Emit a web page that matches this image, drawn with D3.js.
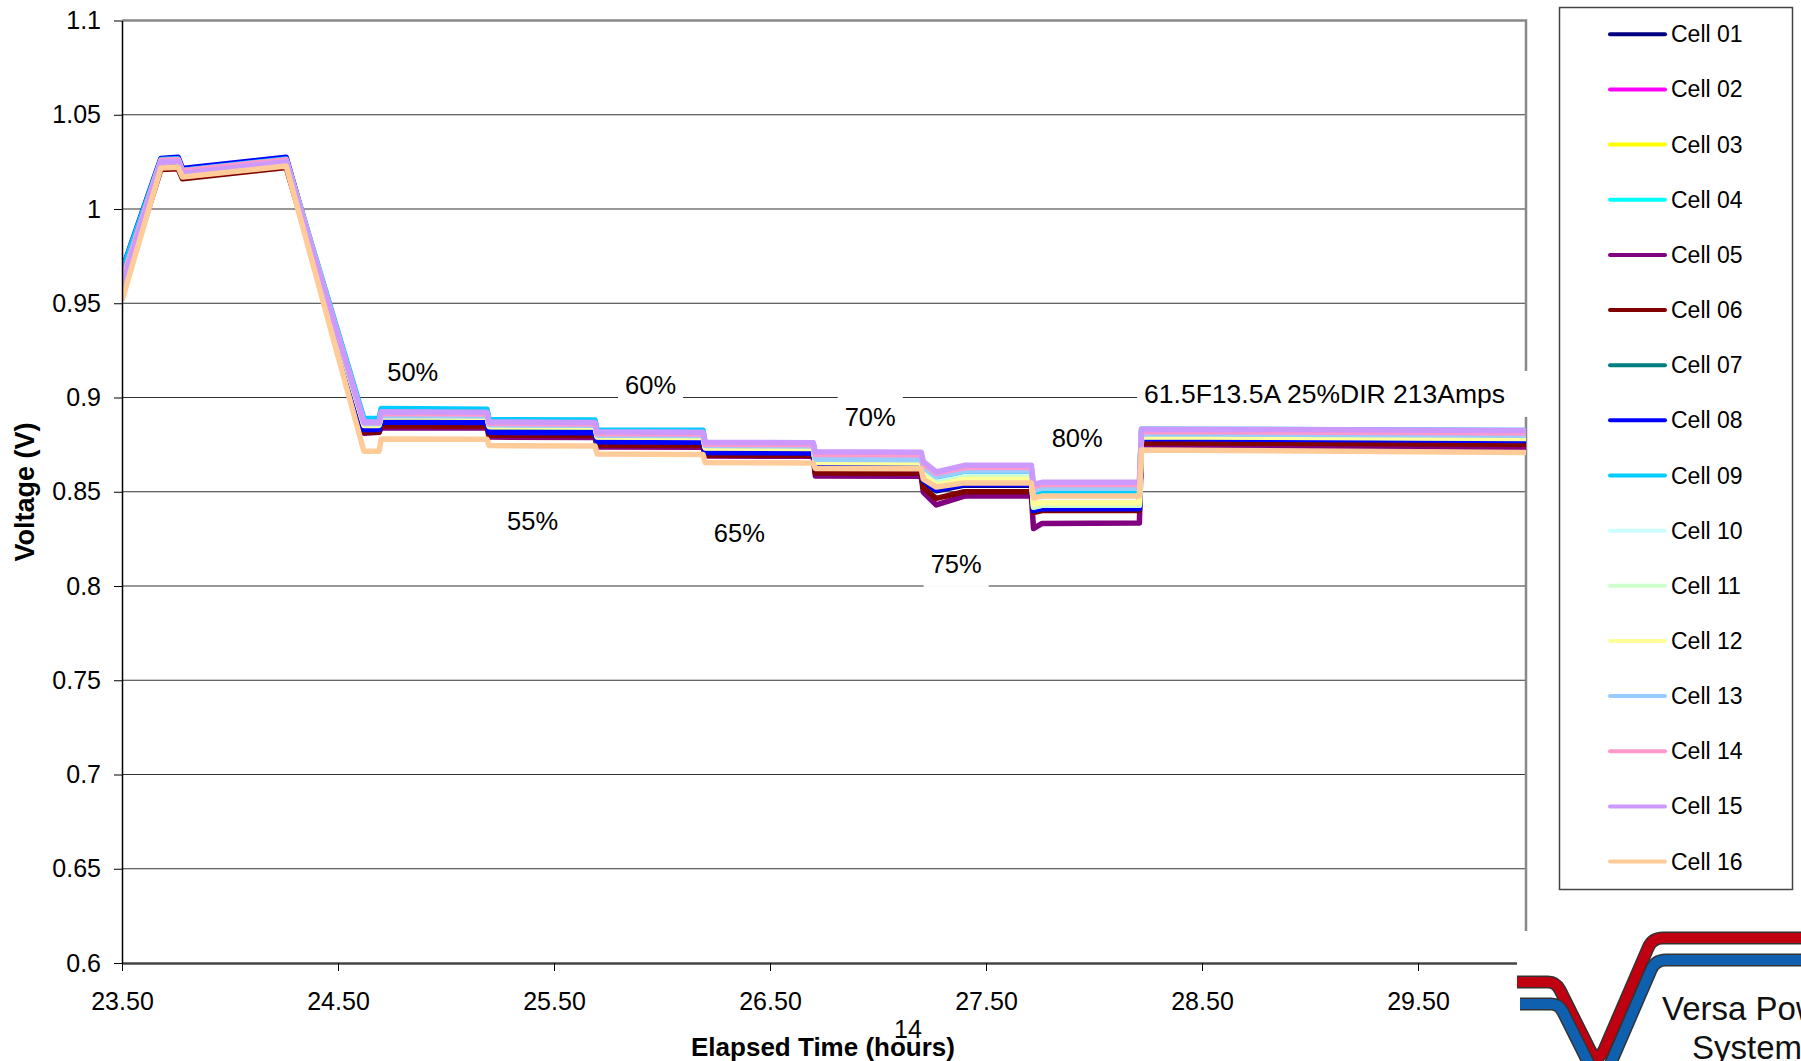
<!DOCTYPE html>
<html>
<head>
<meta charset="utf-8">
<script src="https://cdn.jsdelivr.net/npm/d3@7"></script>
<style>
  body { margin: 0; background: #fff; }
  text { font-family: Arial, "Liberation Sans", sans-serif; }
</style>
</head>
<body>
<div id="chart"></div>
<script>
// Elapsed time (hours) of each breakpoint
var times = [23.50, 23.68, 23.76, 23.78, 24.26, 24.62, 24.69, 24.70, 25.19, 25.20, 25.69, 25.70, 26.19,
             26.20, 26.70, 26.71, 27.20, 27.21, 27.27, 27.40, 27.71, 27.72, 27.76, 28.21, 28.22, 30.00];

// Cell voltages (V) at each breakpoint
var cell01 = [0.9620, 1.0250, 1.0255, 1.0195, 1.0250, 0.8825, 0.8825, 0.8865, 0.8862, 0.8812, 0.8810, 0.8762, 0.8760,
              0.8703, 0.8700, 0.8628, 0.8626, 0.8550, 0.8505, 0.8535, 0.8535, 0.8395, 0.8405, 0.8405, 0.8778, 0.8768];
var cell02 = [0.9620, 1.0250, 1.0255, 1.0195, 1.0255, 0.8835, 0.8835, 0.8875, 0.8872, 0.8820, 0.8818, 0.8770, 0.8768,
              0.8716, 0.8714, 0.8638, 0.8636, 0.8565, 0.8515, 0.8545, 0.8545, 0.8410, 0.8420, 0.8420, 0.8785, 0.8775];
var cell03 = [0.9620, 1.0250, 1.0255, 1.0195, 1.0255, 0.8850, 0.8850, 0.8895, 0.8892, 0.8845, 0.8843, 0.8790, 0.8788,
              0.8735, 0.8733, 0.8655, 0.8653, 0.8585, 0.8535, 0.8565, 0.8565, 0.8430, 0.8440, 0.8440, 0.8790, 0.8780];
var cell04 = [0.9660, 1.0258, 1.0262, 1.0200, 1.0262, 0.8875, 0.8875, 0.8925, 0.8922, 0.8870, 0.8868, 0.8815, 0.8813,
              0.8755, 0.8753, 0.8680, 0.8678, 0.8620, 0.8570, 0.8600, 0.8600, 0.8485, 0.8495, 0.8495, 0.8825, 0.8818];
var cell05 = [0.9580, 1.0240, 1.0245, 1.0185, 1.0240, 0.8810, 0.8815, 0.8840, 0.8838, 0.8790, 0.8788, 0.8738, 0.8736,
              0.8690, 0.8688, 0.8583, 0.8582, 0.8497, 0.8430, 0.8477, 0.8477, 0.8305, 0.8332, 0.8334, 0.8745, 0.8735];
var cell06 = [0.9550, 1.0210, 1.0213, 1.0160, 1.0220, 0.8815, 0.8815, 0.8850, 0.8848, 0.8800, 0.8798, 0.8748, 0.8746,
              0.8695, 0.8693, 0.8600, 0.8598, 0.8520, 0.8465, 0.8500, 0.8500, 0.8390, 0.8400, 0.8400, 0.8760, 0.8752];
var cell07 = [0.9620, 1.0250, 1.0255, 1.0195, 1.0255, 0.8840, 0.8840, 0.8880, 0.8878, 0.8830, 0.8828, 0.8780, 0.8778,
              0.8725, 0.8723, 0.8650, 0.8648, 0.8580, 0.8530, 0.8560, 0.8560, 0.8420, 0.8430, 0.8430, 0.8790, 0.8778];
var cell08 = [0.9675, 1.0268, 1.0275, 1.0215, 1.0275, 0.8830, 0.8830, 0.8870, 0.8868, 0.8815, 0.8813, 0.8765, 0.8763,
              0.8708, 0.8706, 0.8632, 0.8630, 0.8560, 0.8510, 0.8540, 0.8540, 0.8400, 0.8410, 0.8410, 0.8782, 0.8772];
var cell09 = [0.9670, 1.0262, 1.0266, 1.0205, 1.0265, 0.8888, 0.8888, 0.8942, 0.8938, 0.8882, 0.8880, 0.8828, 0.8826,
              0.8760, 0.8758, 0.8685, 0.8683, 0.8625, 0.8575, 0.8605, 0.8605, 0.8495, 0.8505, 0.8505, 0.8832, 0.8825];
var cell10 = [0.9620, 1.0252, 1.0256, 1.0196, 1.0255, 0.8860, 0.8860, 0.8905, 0.8902, 0.8850, 0.8848, 0.8795, 0.8793,
              0.8738, 0.8736, 0.8660, 0.8658, 0.8600, 0.8550, 0.8580, 0.8580, 0.8420, 0.8430, 0.8430, 0.8800, 0.8790];
var cell11 = [0.9610, 1.0250, 1.0254, 1.0194, 1.0252, 0.8855, 0.8855, 0.8900, 0.8897, 0.8848, 0.8846, 0.8792, 0.8790,
              0.8735, 0.8733, 0.8658, 0.8656, 0.8595, 0.8545, 0.8575, 0.8575, 0.8418, 0.8428, 0.8428, 0.8795, 0.8785];
var cell12 = [0.9610, 1.0248, 1.0252, 1.0192, 1.0250, 0.8852, 0.8852, 0.8898, 0.8895, 0.8845, 0.8843, 0.8790, 0.8788,
              0.8732, 0.8730, 0.8655, 0.8653, 0.8585, 0.8535, 0.8565, 0.8565, 0.8432, 0.8442, 0.8442, 0.8792, 0.8782];
var cell13 = [0.9620, 1.0254, 1.0258, 1.0198, 1.0255, 0.8862, 0.8862, 0.8905, 0.8902, 0.8855, 0.8853, 0.8800, 0.8798,
              0.8745, 0.8743, 0.8672, 0.8670, 0.8630, 0.8580, 0.8610, 0.8610, 0.8508, 0.8518, 0.8518, 0.8808, 0.8800];
var cell14 = [0.9620, 1.0258, 1.0262, 1.0203, 1.0262, 0.8868, 0.8868, 0.8915, 0.8912, 0.8862, 0.8860, 0.8808, 0.8806,
              0.8752, 0.8750, 0.8698, 0.8696, 0.8648, 0.8598, 0.8628, 0.8628, 0.8528, 0.8538, 0.8538, 0.8820, 0.8812];
var cell15 = [0.9590, 1.0248, 1.0252, 1.0190, 1.0250, 0.8870, 0.8870, 0.8925, 0.8922, 0.8870, 0.8868, 0.8818, 0.8816,
              0.8762, 0.8760, 0.8712, 0.8710, 0.8660, 0.8605, 0.8640, 0.8640, 0.8540, 0.8550, 0.8550, 0.8832, 0.8825];
var cell16 = [0.9515, 1.0218, 1.0222, 1.0170, 1.0228, 0.8715, 0.8715, 0.8780, 0.8778, 0.8745, 0.8743, 0.8700, 0.8698,
              0.8655, 0.8653, 0.8624, 0.8622, 0.8567, 0.8525, 0.8547, 0.8547, 0.8467, 0.8477, 0.8477, 0.8722, 0.8708];

var cellNames = ["Cell 01", "Cell 02", "Cell 03", "Cell 04", "Cell 05", "Cell 06", "Cell 07", "Cell 08",
                 "Cell 09", "Cell 10", "Cell 11", "Cell 12", "Cell 13", "Cell 14", "Cell 15", "Cell 16"];
var cellColors = ["#000080", "#FF00FF", "#FFFF00", "#00FFFF", "#800080", "#800000", "#008080", "#0000FF",
                  "#00CCFF", "#CCFFFF", "#CCFFCC", "#FFFF99", "#99CCFF", "#FF99CC", "#CC99FF", "#FFCC99"];

// tick values
var xTicks = [23.5, 24.5, 25.5, 26.5, 27.5, 28.5, 29.5];
var yTicks = [0.6, 0.65, 0.7, 0.75, 0.8, 0.85, 0.9, 0.95, 1.0, 1.05, 1.1];

// annotations (label, time, voltage)
var noteLabels = ["50%", "55%", "60%", "65%", "70%", "75%", "80%", "61.5F13.5A 25%DIR 213Amps"];
var noteTimes = [24.846, 25.401, 25.947, 26.358, 26.964, 27.362, 27.922, 28.232];
var noteVolts = [0.9135, 0.8345, 0.9066, 0.8281, 0.8897, 0.8117, 0.8785, 0.9019];

var cells = [cell01, cell02, cell03, cell04, cell05, cell06, cell07, cell08,
             cell09, cell10, cell11, cell12, cell13, cell14, cell15, cell16];

// SVG area
var svgWidth = 1801;
var svgHeight = 1061;
var plot = { left: 122, right: 1526, top: 20.5, bottom: 963 };

var svg = d3.select("#chart")
    .append("svg")
    .attr("width", svgWidth)
    .attr("height", svgHeight)
    .style("display", "block");

var xScale = d3.scaleLinear().domain([23.5, 30]).range([plot.left, plot.right]);
var yScale = d3.scaleLinear().domain([0.6, 1.1]).range([plot.bottom, plot.top]);

// gridlines
svg.append("g")
    .selectAll("line")
    .data(yTicks.filter(v => v > 0.61 && v < 1.09))
    .enter()
    .append("line")
    .attr("x1", plot.left)
    .attr("x2", plot.right)
    .attr("y1", d => yScale(d))
    .attr("y2", d => yScale(d))
    .attr("stroke", "#333")
    .attr("stroke-width", 1.2);

// top and right border of plot area
svg.append("path")
    .attr("d", `M${plot.left},${plot.top}H${plot.right}V${plot.bottom}`)
    .attr("fill", "none")
    .attr("stroke", "#888")
    .attr("stroke-width", 2.5);

// clip the series to the plot area
svg.append("clipPath")
    .attr("id", "plotClip")
    .append("rect")
    .attr("x", plot.left)
    .attr("y", plot.top)
    .attr("width", plot.right - plot.left)
    .attr("height", plot.bottom - plot.top);

var line = d3.line()
    .x(d => xScale(d[0]))
    .y(d => yScale(d[1]));

var linesGroup = svg.append("g").attr("clip-path", "url(#plotClip)");

cells.forEach(function(vals, i) {
    linesGroup.append("path")
        .datum(times.map((t, j) => [t, vals[j]]))
        .attr("d", line)
        .attr("fill", "none")
        .attr("stroke", cellColors[i])
        .attr("stroke-width", 5.5)
        .attr("stroke-linejoin", "round");
});

// x axis
var bottomAxis = d3.axisBottom(xScale)
    .tickValues(xTicks)
    .tickSize(8)
    .tickSizeOuter(0)
    .tickPadding(21)
    .tickFormat(d3.format(".2f"));

var xAxis = svg.append("g")
    .attr("transform", `translate(0, ${plot.bottom})`)
    .call(bottomAxis);
xAxis.select(".domain").attr("stroke", "#444").attr("stroke-width", 2.5);
xAxis.selectAll(".tick line").attr("stroke", "#000");
xAxis.selectAll("text")
    .attr("fill", "#000")
    .style("font-size", "25px")
    .style("font-family", "Arial, 'Liberation Sans', sans-serif");

// y axis
var leftAxis = d3.axisLeft(yScale)
    .tickValues(yTicks)
    .tickSize(8)
    .tickSizeOuter(0)
    .tickPadding(13)
    .tickFormat(d => String(+d.toFixed(2)));

var yAxis = svg.append("g")
    .attr("transform", `translate(${plot.left}, 0)`)
    .call(leftAxis);
yAxis.select(".domain").attr("stroke", "#000").attr("stroke-width", 1.5);
yAxis.selectAll(".tick line").attr("stroke", "#000");
yAxis.selectAll("text")
    .attr("fill", "#000")
    .style("font-size", "25px")
    .style("font-family", "Arial, 'Liberation Sans', sans-serif");

// axis titles
svg.append("text")
    .attr("x", 823)
    .attr("y", 1056)
    .attr("text-anchor", "middle")
    .attr("font-size", 26)
    .attr("font-weight", "bold")
    .text("Elapsed Time (hours)");

svg.append("text")
    .attr("x", 908)
    .attr("y", 1038)
    .attr("text-anchor", "middle")
    .attr("font-size", 25)
    .text("14");

svg.append("text")
    .attr("transform", "translate(34, 492) rotate(-90)")
    .attr("text-anchor", "middle")
    .attr("font-size", 27)
    .attr("font-weight", "bold")
    .text("Voltage (V)");

// annotations with white boxes
var notesGroup = svg.append("g");
noteLabels.forEach(function(label, i) {
    var last = i === noteLabels.length - 1;
    var cx = xScale(noteTimes[i]);
    var cy = yScale(noteVolts[i]);
    var box = notesGroup.append("rect").attr("fill", "#fff");
    var txt = notesGroup.append("text")
        .attr("x", cx)
        .attr("y", cy)
        .attr("text-anchor", last ? "start" : "middle")
        .attr("dominant-baseline", "central")
        .attr("font-size", last ? 26.5 : 25.5)
        .attr("fill", "#000")
        .text(label);
    var bb = txt.node().getBBox();
    var x0 = bb.x - 7;
    var x1 = last ? plot.right + 4 : bb.x + bb.width + 7;
    box.attr("x", x0).attr("y", cy - 23).attr("width", x1 - x0).attr("height", 46);
});

// legend
var legend = svg.append("g");
legend.append("rect")
    .attr("x", 1559.5)
    .attr("y", 7.5)
    .attr("width", 233)
    .attr("height", 882)
    .attr("fill", "#fff")
    .attr("stroke", "#444")
    .attr("stroke-width", 1.5);

var legendItems = legend.selectAll("g.item")
    .data(cellNames)
    .enter()
    .append("g")
    .attr("transform", (d, i) => `translate(0, ${34.3 + i * 55.15})`);

legendItems.append("line")
    .attr("x1", 1610)
    .attr("x2", 1665)
    .attr("stroke", (d, i) => cellColors[i])
    .attr("stroke-width", 4)
    .attr("stroke-linecap", "round");

legendItems.append("text")
    .attr("x", 1671)
    .attr("dominant-baseline", "central")
    .attr("font-size", 23)
    .attr("fill", "#000")
    .text(d => d);

// logo in the bottom right corner
var logo = svg.append("g");
logo.append("rect")
    .attr("x", 1517)
    .attr("y", 931)
    .attr("width", svgWidth - 1517)
    .attr("height", svgHeight - 931)
    .attr("fill", "#fff");

var vPath = "M1517,982 L1548,982 Q1556,982 1560,990 L1590,1050 Q1597,1064 1604,1050 L1648,948 Q1652,938 1663,938 L1810,938";
[["#c00010", 0, 0], ["#1060b0", 3, 22]].forEach(function(band) {
    logo.append("path")
        .attr("d", vPath)
        .attr("transform", `translate(${band[1]}, ${band[2]})`)
        .attr("fill", "none")
        .attr("stroke", "#333")
        .attr("stroke-width", 13);
    logo.append("path")
        .attr("d", vPath)
        .attr("transform", `translate(${band[1]}, ${band[2]})`)
        .attr("fill", "none")
        .attr("stroke", band[0])
        .attr("stroke-width", 10);
});

logo.append("text")
    .attr("x", 1662)
    .attr("y", 1020)
    .attr("font-size", 33)
    .attr("font-family", "'DejaVu Sans', sans-serif")
    .attr("fill", "#111")
    .text("Versa Power");

logo.append("text")
    .attr("x", 1692)
    .attr("y", 1059)
    .attr("font-size", 33)
    .attr("font-family", "'DejaVu Sans', sans-serif")
    .attr("fill", "#111")
    .text("Systems");
</script>
</body>
</html>
